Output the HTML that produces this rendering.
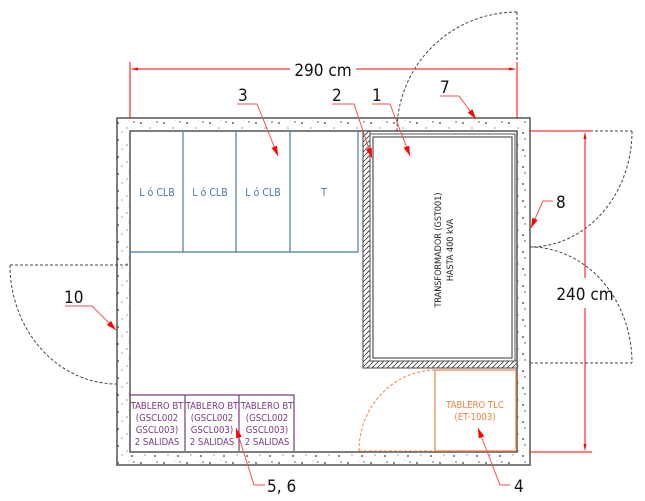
<!DOCTYPE html>
<html><head><meta charset="utf-8"><style>
html,body{margin:0;padding:0;background:#fff}
svg{display:block}
text{font-family:"DejaVu Sans Condensed","Liberation Sans",sans-serif}
</style></head><body>
<svg width="645" height="501" viewBox="0 0 645 501" xmlns="http://www.w3.org/2000/svg">
<defs>
<pattern id="conc" width="23" height="17" patternUnits="userSpaceOnUse">
<rect width="23" height="17" fill="#fff"/>
<circle cx="3" cy="4" r="0.9" fill="#333"/><circle cx="12" cy="9" r="0.6" fill="#555"/>
<circle cx="19" cy="3" r="0.7" fill="#444"/><circle cx="7" cy="13" r="0.6" fill="#666"/>
<circle cx="17" cy="14" r="0.9" fill="#333"/><circle cx="14" cy="2" r="0.4" fill="#777"/>
</pattern>
<pattern id="hatch" width="5" height="5" patternUnits="userSpaceOnUse">
<rect width="5" height="5" fill="#fff"/><path d="M0 5 L5 0" stroke="#333" stroke-width="0.8"/>
</pattern>
<marker id="ar" markerWidth="10" markerHeight="6" refX="10" refY="3" orient="auto" markerUnits="userSpaceOnUse">
<path d="M0 0 L10 3 L0 6 Z" fill="#f00"/></marker>
</defs>

<path d="M117 118 H530 V465 H117 Z M130 131 V452 H517 V131 Z" fill="url(#conc)" fill-rule="evenodd" stroke="#555" stroke-width="1.5"/>

<g fill="none" stroke="#444" stroke-width="1" stroke-dasharray="3,2">
<path d="M517 12 V118"/>
<path d="M517 12 A120 119 0 0 0 397 131"/>
<path d="M530 131 H632"/>
<path d="M530 363 H632"/>
<path d="M632 131 A102 116 0 0 1 530 247"/>
<path d="M530 247 A102 116 0 0 1 632 363"/>
<path d="M10 265 H130"/>
<path d="M10 265 A107 119 0 0 0 117 384"/>
</g>

<path d="M363 131 H370 V361 H517 V368 H363 Z" fill="url(#hatch)" stroke="#444" stroke-width="1"/>
<rect x="370" y="134" width="145" height="227" fill="none" stroke="#555" stroke-width="1"/>
<rect x="373" y="137" width="139" height="221" fill="#fff" stroke="#555" stroke-width="1.2"/>
<text transform="translate(441,250) rotate(-90)" text-anchor="middle" font-size="9" fill="#222">TRANSFORMADOR (GST001)</text>
<text transform="translate(453,250) rotate(-90)" text-anchor="middle" font-size="9" fill="#222">HASTA 400 kVA</text>

<g fill="none" stroke="#4a7aa8" stroke-width="1.2">
<path d="M130 252 H358 V131 M183 131 V252 M236 131 V252 M290 131 V252"/>
</g>
<g fill="#4a7aa8" font-size="10.5" text-anchor="middle">
<text x="157" y="196">L ó CLB</text><text x="210" y="196">L ó CLB</text>
<text x="263" y="196">L ó CLB</text><text x="324" y="196">T</text>
</g>

<g fill="none" stroke="#7a3a80" stroke-width="1.2">
<path d="M130 395 H294 V451 M185 395 V451 M239 395 V451"/>
</g>
<g fill="#7a3a80" font-size="9.5" text-anchor="middle">
<text x="157" y="409">TABLERO BT</text><text x="157" y="421">(GSCL002</text><text x="157" y="433">GSCL003)</text><text x="157" y="445">2 SALIDAS</text>
<text x="212" y="409">TABLERO BT</text><text x="212" y="421">(GSCL002</text><text x="212" y="433">GSCL003)</text><text x="212" y="445">2 SALIDAS</text>
<text x="267" y="409">TABLERO BT</text><text x="267" y="421">(GSCL002</text><text x="267" y="433">GSCL003)</text><text x="267" y="445">2 SALIDAS</text>
</g>

<rect x="435" y="370" width="81" height="81" fill="none" stroke="#f08040" stroke-width="1.2"/>
<path d="M359 451 A77 81 0 0 1 436 370" fill="none" stroke="#f08040" stroke-width="1" stroke-dasharray="3,2"/>
<path d="M359 451 H435" fill="none" stroke="#f08040" stroke-width="1" stroke-dasharray="3,2"/>
<g fill="#f08040" font-size="9.5" text-anchor="middle"><text x="475" y="408">TABLERO TLC</text><text x="475" y="420">(ET-1003)</text></g>

<g stroke="#f00" stroke-width="1" fill="none">
<path d="M130 62 V118 M517 62 V118"/>
<path d="M132 69 H290 M356 69 H515" />
<path d="M530 131 H592 M530 452 H592"/>
<path d="M585 133 V278 M585 308 V450"/>
</g>
<path d="M131 69 L138 67.5 L138 70.5Z M516 69 L509 67.5 L509 70.5Z M585 132 L583.5 139 L586.5 139Z M585 451 L583.5 444 L586.5 444Z" fill="#f00"/>
<text x="323" y="76" font-size="17" text-anchor="middle" fill="#111" font-family="Liberation Sans,sans-serif">290 cm</text>
<text x="585" y="300" font-size="17" text-anchor="middle" fill="#111" font-family="Liberation Sans,sans-serif">240 cm</text>

<g stroke="#f05050" stroke-width="1" fill="none" marker-end="url(#ar)">
<path d="M237 104 H257 L278 156"/>
<path d="M332 104 H354 L372 158"/>
<path d="M372 104 H390 L410 156"/>
<path d="M440 96 H459 L476 119"/>
<path d="M553 201 H543 L531 228"/>
<path d="M65 306 H92 L116 330"/>
<path d="M265 485 H254 L236 428"/>
<path d="M510 485 H500 L478 428"/>
</g>
<g fill="#111" font-size="17" font-family="Liberation Sans,sans-serif">
<text x="238" y="101">3</text><text x="332" y="101">2</text><text x="372" y="101">1</text>
<text x="440" y="93">7</text><text x="556" y="208">8</text><text x="64" y="303">10</text>
<text x="267" y="492">5, 6</text><text x="514" y="492">4</text>
</g>
</svg>
</body></html>
